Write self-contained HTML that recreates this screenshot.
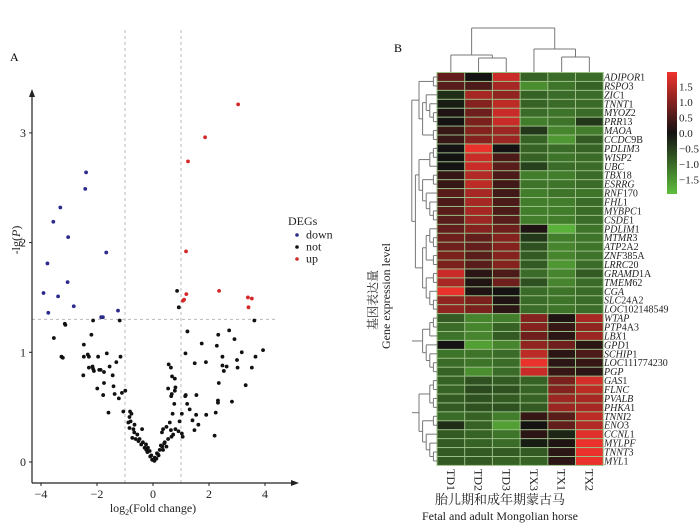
<!DOCTYPE html>
<html><head><meta charset="utf-8">
<style>
html,body{margin:0;padding:0;background:#fff;}
svg{display:block;font-family:"Liberation Serif","Noto Serif CJK SC",serif;}
</style></head>
<body>
<svg id="fig" width="700" height="523" viewBox="0 0 700 523">
<g id="volcano"></g>
<g id="heat"></g>
</svg>
<script>
// ===== Volcano data =====
const downX=[-2.39,-2.42,-3.31,-3.56,-3.03,-3.77,-1.67,-3.05,-3.91,-3.39,-3.74,-2.83,-1.85,-1.79,-1.25];
const downY=[2.64,2.49,2.32,2.19,2.05,1.81,1.91,1.64,1.54,1.51,1.36,1.42,1.32,1.32,1.38];
const upX=[3.04,1.86,1.25,1.18,1.19,2.36,1.07,1.11,3.39,3.53,3.41];
const upY=[3.26,2.96,2.74,1.92,1.53,1.56,1.47,1.48,1.50,1.49,1.41];
const notX=[0.86,0.92,3.62,-2.14,-1.19,-3.15,-3.13,1.23,2.72,-2.2,2.33,-3.54,2.91,-2.47,1.74,2.28,3.93,3.17,1.16,-1.65,-2.33,-2.47,-3.27,-3.22,-2.29,-1.96,-1.16,2.48,3.66,3.0,-1.31,1.49,1.89,0.56,-1.55,-2.16,-2.29,-2.14,3.02,3.53,2.48,2.63,2.53,-1.92,-1.87,-2.11,-1.75,0.64,0.68,0.78,-1.44,-2.49,-1.75,2.35,3.31,-1.41,-1.99,-0.99,-1.11,-1.37,-1.78,0.54,0.80,0.78,0.67,0.65,1.15,1.17,1.55,-1.22,2.32,2.32,2.82,0.76,1.22,1.31,1.03,0.7,1.54,1.9,-1.59,2.24,-1.06,-0.82,-0.77,-0.84,-0.88,-0.80,-0.66,0.95,1.41,1.62,1.48,0.8,0.6,0.48,0.36,-0.84,-0.39,-0.67,-0.56,0.91,1.03,0.64,0.32,1.06,2.2,-0.74,-0.48,-0.36,-0.25,-0.18,-0.12,-0.06,0.0,0.06,0.14,0.24,0.33,0.42,0.54,0.66,-0.62,-0.42,-0.24,-0.1,0.12,0.2,0.36,0.48,-0.3,-0.52,0.28,0.05,-0.03,0.18,-0.2,0.4,0.72,-0.7];
const notY=[1.56,1.41,1.29,1.29,1.29,1.26,1.25,1.19,1.20,1.16,1.16,1.13,1.12,1.07,1.08,1.06,1.02,1.0,0.99,0.99,0.98,0.96,0.96,0.95,0.96,0.96,0.96,0.96,0.96,0.93,0.91,0.90,0.91,0.89,0.87,0.87,0.86,0.85,0.86,0.86,0.88,0.87,0.83,0.84,0.84,0.83,0.82,0.86,0.78,0.76,0.79,0.79,0.72,0.72,0.70,0.69,0.67,0.65,0.63,0.62,0.61,0.67,0.68,0.65,0.62,0.60,0.60,0.61,0.61,0.58,0.56,0.54,0.55,0.53,0.53,0.48,0.44,0.44,0.43,0.43,0.45,0.45,0.46,0.46,0.44,0.41,0.36,0.37,0.34,0.37,0.38,0.34,0.29,0.30,0.36,0.32,0.30,0.31,0.30,0.27,0.25,0.28,0.26,0.29,0.27,0.23,0.24,0.22,0.21,0.18,0.16,0.13,0.10,0.06,0.02,0.04,0.08,0.11,0.14,0.18,0.21,0.23,0.21,0.16,0.11,0.05,0.03,0.06,0.11,0.14,0.13,0.19,0.15,0.01,0.02,0.07,0.09,0.17,0.25,0.30];
const xTicks=[-4,-2,0,2,4];
const yTicks=[0,1,2,3];
const legendLabels=["down","not","up"];

const NS="http://www.w3.org/2000/svg";
function mk(tag,attrs,parent){const e=document.createElementNS(NS,tag);for(const k in attrs)e.setAttribute(k,attrs[k]);parent.appendChild(e);return e;}
const vx=v=>153+v*28;
const vy=v=>462-v*109.7;
const V=document.getElementById('volcano');

let t=mk('text',{x:10,y:61,'font-size':12},V);t.textContent='A';



let l=mk('line',{x1:vx(-1),y1:30,x2:vx(-1),y2:483,stroke:'#bbb','stroke-dasharray':'3,3','stroke-width':1},V);


l=mk('line',{x1:vx(1),y1:30,x2:vx(1),y2:483,stroke:'#bbb','stroke-dasharray':'3,3','stroke-width':1},V);


l=mk('line',{x1:32,y1:vy(1.3),x2:275,y2:vy(1.3),stroke:'#bbb','stroke-dasharray':'3,3','stroke-width':1},V);



l=mk('line',{x1:32,y1:483,x2:32,y2:95,stroke:'#222','stroke-width':1.2},V);


mk('polygon',{points:'32,89 29,97 35,97',fill:'#222'},V);
l=mk('line',{x1:32,y1:483,x2:292,y2:483,stroke:'#222','stroke-width':1.2},V);


mk('polygon',{points:'299,483 291,480 291,486',fill:'#222'},V);

xTicks.forEach(v=>{
  mk('line',{x1:vx(v),y1:483,x2:vx(v),y2:486,stroke:'#222'},V);
  const tx=mk('text',{x:vx(v),y:498,'font-size':12,'text-anchor':'middle',fill:'#222'},V);
  tx.textContent=(v<0?'\u2212'+(-v):v);
  
  
});
yTicks.forEach(v=>{
  mk('line',{x1:29,y1:vy(v),x2:32,y2:vy(v),stroke:'#222'},V);
  const tx=mk('text',{x:26,y:vy(v)+4,'font-size':12,'text-anchor':'end',fill:'#222'},V);
  tx.textContent=v;
  
  
});
t=mk('text',{x:153,y:512,'font-size':12,'text-anchor':'middle',fill:'#222'},V);
t.innerHTML='log<tspan font-size="8" dy="3">2</tspan><tspan dy="-3">(Fold change)</tspan>';


t=mk('text',{x:0,y:0,'font-size':12,'text-anchor':'middle',fill:'#222',transform:'translate(20,240) rotate(-90)'},V);
t.innerHTML='-lg(<tspan font-style="italic">P</tspan>)';



function dots(xs,ys,color,name){
  xs.forEach((x,i)=>{
    const c=mk('circle',{cx:vx(x),cy:vy(ys[i]),r:1.9,fill:color},V);
    
    
  });
}
dots(notX,notY,'#111','point-not');
dots(downX,downY,'#2b2b8c','point-down');
dots(upX,upY,'#d42828','point-up');

t=mk('text',{x:288,y:225,'font-size':12,fill:'#222'},V);t.textContent='DEGs';


const legCols=['#2b2b8c','#111','#d42828'];
legendLabels.forEach((lab,i)=>{
  const y=235+i*12;
  mk('circle',{cx:297,cy:y,r:1.8,fill:legCols[i]},V);
  const tx=mk('text',{x:306,y:y+3.5,'font-size':12,fill:'#222'},V);
  tx.textContent=lab;
  
  
});

// ===== Heatmap data =====
const samples=["TD1","TD2","TD3","TX3","TX1","TX2"];
const genes=["ADIPOR1","RSPO3","ZIC1","TNNT1","MYOZ2","PRR13","MAOA","CCDC9B","PDLIM3","WISP2","UBC","TBX18","ESRRG","RNF170","FHL1","MYBPC1","CSDE1","PDLIM1","MTMR3","ATP2A2","ZNF385A","LRRC20","GRAMD1A","TMEM62","CGA","SLC24A2","LOC102148549","WTAP","PTP4A3","LBX1","GPD1","SCHIP1","LOC111774230","PGP","GAS1","FLNC","PVALB","PHKA1","TNNI2","ENO3","CCNL1","MYLPF","TNNT3","MYL1"];
const colTD1=[0.7,0.6,-0.3,-0.1,0.1,0.0,0.3,0.3,0.0,0.0,0.0,0.3,0.3,0.6,0.5,0.6,0.6,0.7,0.8,0.8,0.9,0.9,1.6,1.3,1.9,1.1,1.1,-0.8,-1.0,-1.1,0.0,-1.1,-1.0,-0.9,-0.9,-0.9,-0.8,-0.8,-1.0,-0.3,-0.8,-0.8,-0.8,-0.8];
const colTD2=[0.0,0.5,1.3,1.0,0.8,0.9,1.0,1.0,1.9,1.6,1.6,1.4,1.5,1.3,1.3,1.3,1.2,1.0,0.7,0.7,0.6,0.6,0.2,0.1,0.1,0.9,0.9,-1.3,-1.3,-1.3,-1.6,-1.1,-1.1,-1.4,-0.7,-0.6,-0.7,-0.7,-0.9,-0.9,-0.9,-0.9,-0.8,-0.8];
const colTD3=[1.6,1.3,1.1,1.5,1.6,1.6,1.2,1.2,0.0,0.5,0.6,0.5,0.4,0.4,0.5,0.5,0.6,0.8,1.0,1.0,1.0,1.0,0.5,0.8,0.0,0.1,0.2,-1.2,-0.9,-0.8,-1.3,-1.0,-1.0,-1.0,-0.8,-0.7,-0.8,-0.7,-1.2,-1.6,-1.1,-1.0,-0.8,-0.9];
const colTX3=[-0.9,-1.4,-0.9,-0.9,-1.0,-1.2,-0.4,-0.9,-0.9,-0.9,-0.5,-1.2,-1.1,-1.2,-1.2,-1.2,-1.2,0.1,-0.4,-0.7,-0.8,-0.8,-1.0,-0.7,-1.0,-1.0,-1.0,1.0,1.0,0.8,1.1,1.5,1.9,1.6,-0.9,-0.9,-0.9,-0.8,0.3,0.0,0.2,-0.1,-0.8,-0.9];
const colTX1=[-1.0,-1.1,-1.0,-1.0,-1.1,-1.1,-1.3,-1.5,-1.0,-1.1,-1.0,-1.2,-1.1,-1.1,-1.2,-1.2,-1.2,-1.8,-1.2,-1.3,-1.3,-1.5,-1.3,-1.3,-1.1,-1.1,-1.1,0.1,0.3,0.2,0.8,0.2,0.2,0.3,0.9,1.0,1.2,1.2,0.6,0.7,-0.2,0.1,0.2,0.2];
const colTX2=[-1.0,-0.9,-1.0,-1.0,-1.0,-0.4,-1.2,-0.8,-0.9,-1.0,-1.0,-1.0,-1.0,-1.1,-1.0,-1.0,-1.0,-1.1,-1.1,-1.1,-1.1,-1.0,-0.8,-1.0,-1.0,-1.0,-1.0,1.3,1.1,1.2,0.2,0.5,0.3,0.2,1.7,1.5,1.3,1.3,1.5,1.4,1.8,1.9,1.9,1.9];
const legendTicks=[1.5,1.0,0.5,0.0,-0.5,-1.0,-1.5];

const H=document.getElementById('heat');
const HX0=437,HY0=72.5,CW=27.7,RH=8.93;
const cx=i=>HX0+i*CW;
const ry=i=>HY0+i*RH;
function col(v){
  v=Math.max(-1.95,Math.min(1.95,v));
  if(v>=0){const f=v/1.95;return `rgb(${Math.round(20+f*(240-20))},${Math.round(18+f*(50-18))},${Math.round(18+f*(45-18))})`;}
  const f=-v/1.95;return `rgb(${Math.round(20+f*(95-20))},${Math.round(20+f*(190-20))},${Math.round(18+f*(60-18))})`;
}
t=mk('text',{x:394,y:52,'font-size':12},H);t.textContent='B';



const cols=[colTD1,colTD2,colTD3,colTX3,colTX1,colTX2];
mk('rect',{x:HX0-0.5,y:HY0-0.5,width:CW*6+1,height:RH*44+1,fill:'#9cbf88'},H);
cols.forEach((arr,j)=>{
  arr.forEach((v,i)=>{
    const r=mk('rect',{x:cx(j)+0.5,y:ry(i)+0.5,width:CW-1,height:RH-1,fill:col(v)},H);
    
    
  });
});
genes.forEach((g,i)=>{
  const tx=mk('text',{x:604,y:ry(i)+RH/2+3.5,'font-size':10,fill:'#222'},H);
  if(g.startsWith('LOC')) tx.innerHTML='<tspan font-style="italic">LOC</tspan>'+g.slice(3);
  else {const mm=g.match(/^(.*?[A-Z])(\d+[A-Z]?\d*)?$/); if(mm&&mm[2]) tx.innerHTML='<tspan font-style="italic">'+mm[1]+'</tspan>'+mm[2]; else tx.innerHTML='<tspan font-style="italic">'+g+'</tspan>';}
  
  
});
samples.forEach((s,j)=>{
  const tx=mk('text',{x:0,y:0,'font-size':12,fill:'#222',transform:`translate(${cx(j)+CW/2-4},469) rotate(90)`},H);
  tx.textContent=s;
  
  
});
t=mk('text',{x:500,y:504,'font-size':13,'text-anchor':'middle',fill:'#222'},H);t.textContent='胎儿期和成年期蒙古马';


t=mk('text',{x:500,y:520,'font-size':12,'text-anchor':'middle',fill:'#222'},H);t.textContent='Fetal and adult Mongolian horse';


t=mk('text',{x:0,y:0,'font-size':12,'text-anchor':'middle',fill:'#222',transform:'translate(377,300) rotate(-90)'},H);t.textContent='基因表达量';


t=mk('text',{x:0,y:0,'font-size':12,'text-anchor':'middle',fill:'#222',transform:'translate(390,296) rotate(-90)'},H);t.textContent='Gene expression level';



const grad=mk('linearGradient',{id:'cb',x1:0,y1:0,x2:0,y2:1},mk('defs',{},H));
[[0,1.95],[0.5,0],[1,-1.95]].forEach(([o,v])=>mk('stop',{offset:o,'stop-color':col(v)},grad));
let cbar=mk('rect',{x:667,y:72,width:10,height:122,fill:'url(#cb)'},H);


const cbY=v=>133-v*31;
legendTicks.forEach(v=>{
  const tx=mk('text',{x:679,y:cbY(v)+4,'font-size':11,fill:'#222'},H);
  tx.textContent=(v<0?'\u2212'+(-v).toFixed(1):v.toFixed(1));
  
  
});

const dg='#777';
function ln(x1,y1,x2,y2,p){mk('line',{x1,y1,x2,y2,stroke:dg,'stroke-width':1},p);}
const cc=j=>cx(j)+CW/2;
const cd=mk('g',{},H);
let a=(cc(1)+cc(2))/2;
ln(cc(1),72,cc(1),58,cd);ln(cc(2),72,cc(2),58,cd);ln(cc(1),58,cc(2),58,cd);
ln(cc(0),72,cc(0),55,cd);ln(a,58,a,55,cd);ln(cc(0),55,a,55,cd);
let L=(cc(0)+a)/2;
let b=(cc(4)+cc(5))/2;
ln(cc(4),72,cc(4),57,cd);ln(cc(5),72,cc(5),57,cd);ln(cc(4),57,cc(5),57,cd);
ln(cc(3),72,cc(3),49,cd);ln(b,57,b,49,cd);ln(cc(3),49,b,49,cd);
let R=(cc(3)+b)/2;
ln(L,55,L,28,cd);ln(R,49,R,28,cd);ln(L,28,R,28,cd);

const rd=mk('g',{},H);
const treeTop=[[[0,1],[[2,[3,[4,5]]],[6,7]]],[[[[8,9],10],[[11,12],[13,[14,[15,16]]]]],[[[17,[18,19]],[20,21]],[[22,23],[24,[25,26]]]]]];
const treeB1=[[[27,28],29],[30,[31,[32,33]]]];
const treeB2=[[[34,35],[36,37]],[[38,39],[40,[41,[42,43]]]]];
function draw(n){
  if(typeof n==='number') return {y:ry(n)+RH/2,h:0};
  const A=draw(n[0]),B=draw(n[1]);
  const h=Math.max(A.h,B.h)+1;
  const x=437-h*3.6;
  const xa=437-A.h*3.6,xb=437-B.h*3.6;
  ln(xa,A.y,x,A.y,rd);ln(xb,B.y,x,B.y,rd);ln(x,A.y,x,B.y,rd);
  return {y:(A.y+B.y)/2,h};
}
draw(treeTop);
const b1=draw(treeB1);ln(437-b1.h*3.6,b1.y,412,b1.y,rd);
const b2=draw(treeB2);ln(437-b2.h*3.6,b2.y,412,b2.y,rd);
</script>
</body></html>
